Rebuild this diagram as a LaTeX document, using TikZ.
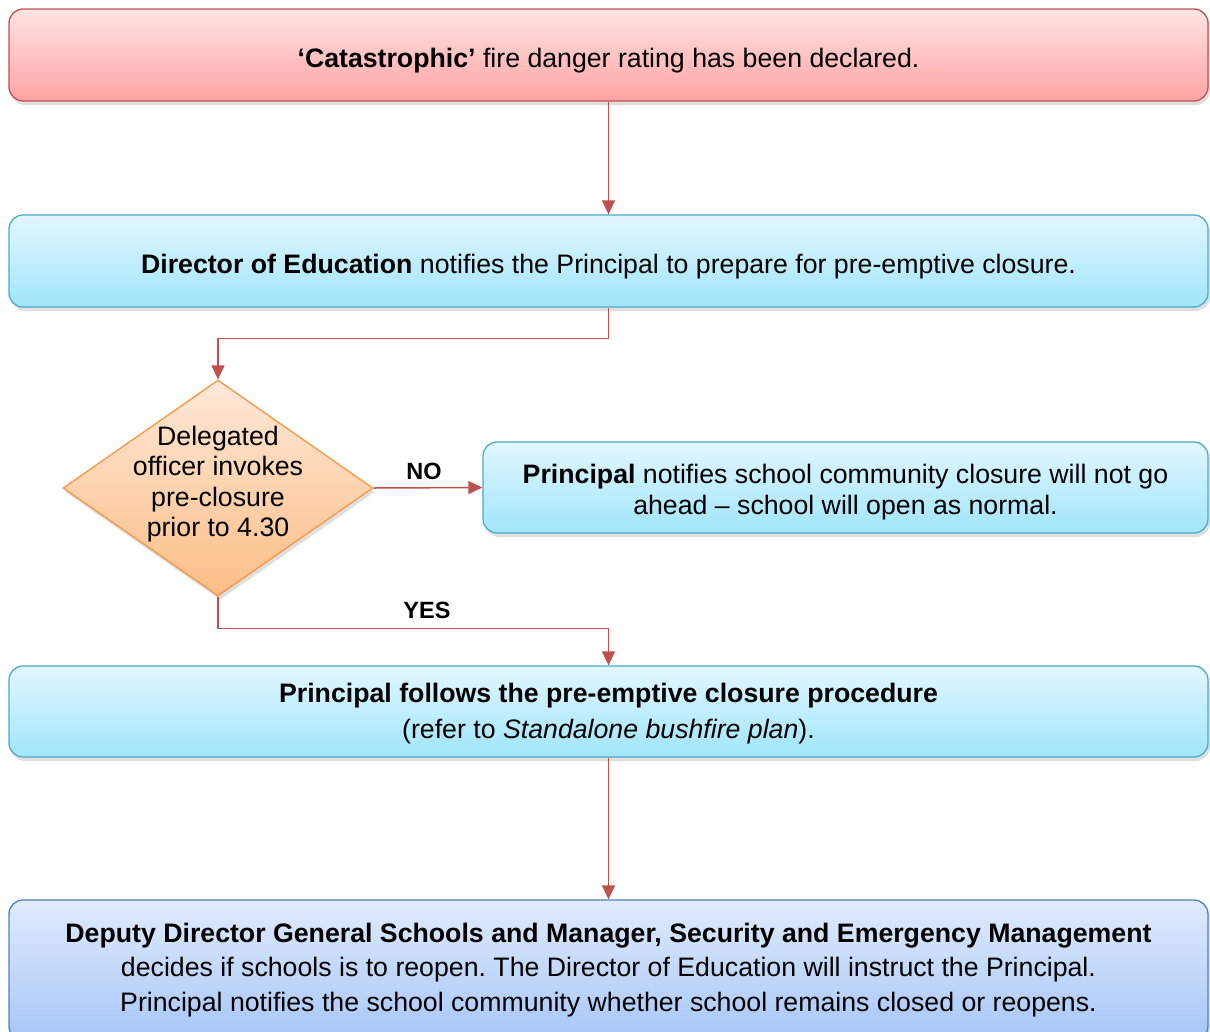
\documentclass[tikz,border=0pt]{standalone}
\usepackage{fontspec}
\setmainfont{Liberation Sans}
\frenchspacing
\usetikzlibrary{shapes.geometric,arrows.meta,shadows}
\definecolor{redtop}{HTML}{FFE3E3}
\definecolor{redbot}{HTML}{FFA3A3}
\definecolor{redline}{HTML}{C0504D}
\definecolor{cyantop}{HTML}{E2F7FF}
\definecolor{cyanbot}{HTML}{A0E5FB}
\definecolor{cyanline}{HTML}{4BACC6}
\definecolor{orgtop}{HTML}{FFE8D8}
\definecolor{orgbot}{HTML}{FBBE86}
\definecolor{orgline}{HTML}{F79646}
\definecolor{bluetop}{HTML}{E0EBFC}
\definecolor{bluebot}{HTML}{A6C6F7}
\definecolor{blueline}{HTML}{4F81BD}
\definecolor{arrcol}{HTML}{C0504D}
\begin{document}
\begin{tikzpicture}[x=1pt,y=-1pt,
  basebox/.style={rectangle, rounded corners=14pt, line width=1.3pt, align=center, inner sep=0pt,
    font=\fontsize{26.7}{34.5}\selectfont,
    drop shadow={shadow xshift=2pt,shadow yshift=-4pt,opacity=0.25}},
  redbox/.style={basebox, draw=redline, top color=redtop, bottom color=redbot},
  cyanbox/.style={basebox, draw=cyanline, top color=cyantop, bottom color=cyanbot},
  bluebox/.style={basebox, draw=blueline, top color=bluetop, bottom color=bluebot},
  decbox/.style={diamond, aspect=1.435, minimum width=310pt, minimum height=216pt, inner sep=0pt,
    line width=1.3pt, draw=orgline, top color=orgtop, bottom color=orgbot,
    drop shadow={shadow xshift=2pt,shadow yshift=-4pt,opacity=0.25}},
  dectext/.style={align=center, font=\fontsize{26.7}{30.5}\selectfont},
  lbl/.style={font=\fontsize{23.5}{27}\selectfont\bfseries},
  arr/.style={draw=arrcol, line width=1.5pt, -{Triangle[length=14pt,width=13pt]}, color=arrcol}
]
\useasboundingbox (0,0) rectangle (1210,1031);
\fill[white] (0,0) rectangle (1210,1031);

\node[redbox, minimum width=1199pt, minimum height=92pt, text height=30pt, text depth=6pt] (b1) at (608.5,55)
  {\textbf{‘Catastrophic’} fire danger rating has been declared.};
\node[cyanbox, minimum width=1199pt, minimum height=92pt, text height=30pt, text depth=6pt] (b2) at (608.5,261)
  {\textbf{Director of Education} notifies the Principal to prepare for pre-emptive closure.};
\node[decbox] (dec) at (218,488) {};
\node[dectext] (dect) at (218,484) {Delegated\\officer invokes\\pre-closure\\prior to 4.30};
\node[cyanbox, minimum width=725pt, minimum height=91pt, font=\fontsize{26.7}{31}\selectfont,
  text height=60.5pt, text depth=5.6pt] (b3) at (845.5,487.5)
  {\textbf{Principal} notifies school community closure will not go\\ahead – school will open as normal.};
\node[cyanbox, minimum width=1199pt, minimum height=91pt, font=\fontsize{26.7}{36}\selectfont,
  text height=59.5pt, text depth=5.6pt] (b4) at (608.5,711.5)
  {\textbf{Principal follows the pre-emptive closure procedure}\\(refer to \textit{Standalone bushfire plan}).};
\node[bluebox, minimum width=1199pt, minimum height=140pt] (b5) at (608.5,970)
  {\textbf{Deputy Director General Schools and Manager, Security and Emergency Management}\\
   decides if schools is to reopen. The Director of Education will instruct the Principal.\\
   Principal notifies the school community whether school remains closed or reopens.};

\draw[arr] (b1.south) -- (b2.north);
\draw[arr] (b2.south) -- ++(0,31) -| (dec.north);
\draw[arr] (dec.east) -- (b3.west);
\draw[arr] (dec.south) -- ++(0,32) -| (b4.north);
\draw[arr] (b4.south) -- (b5.north);

\node[lbl] (no) at (424,471) {NO};
\node[lbl] (yes) at (427,610) {YES};
\end{tikzpicture}
\end{document}
